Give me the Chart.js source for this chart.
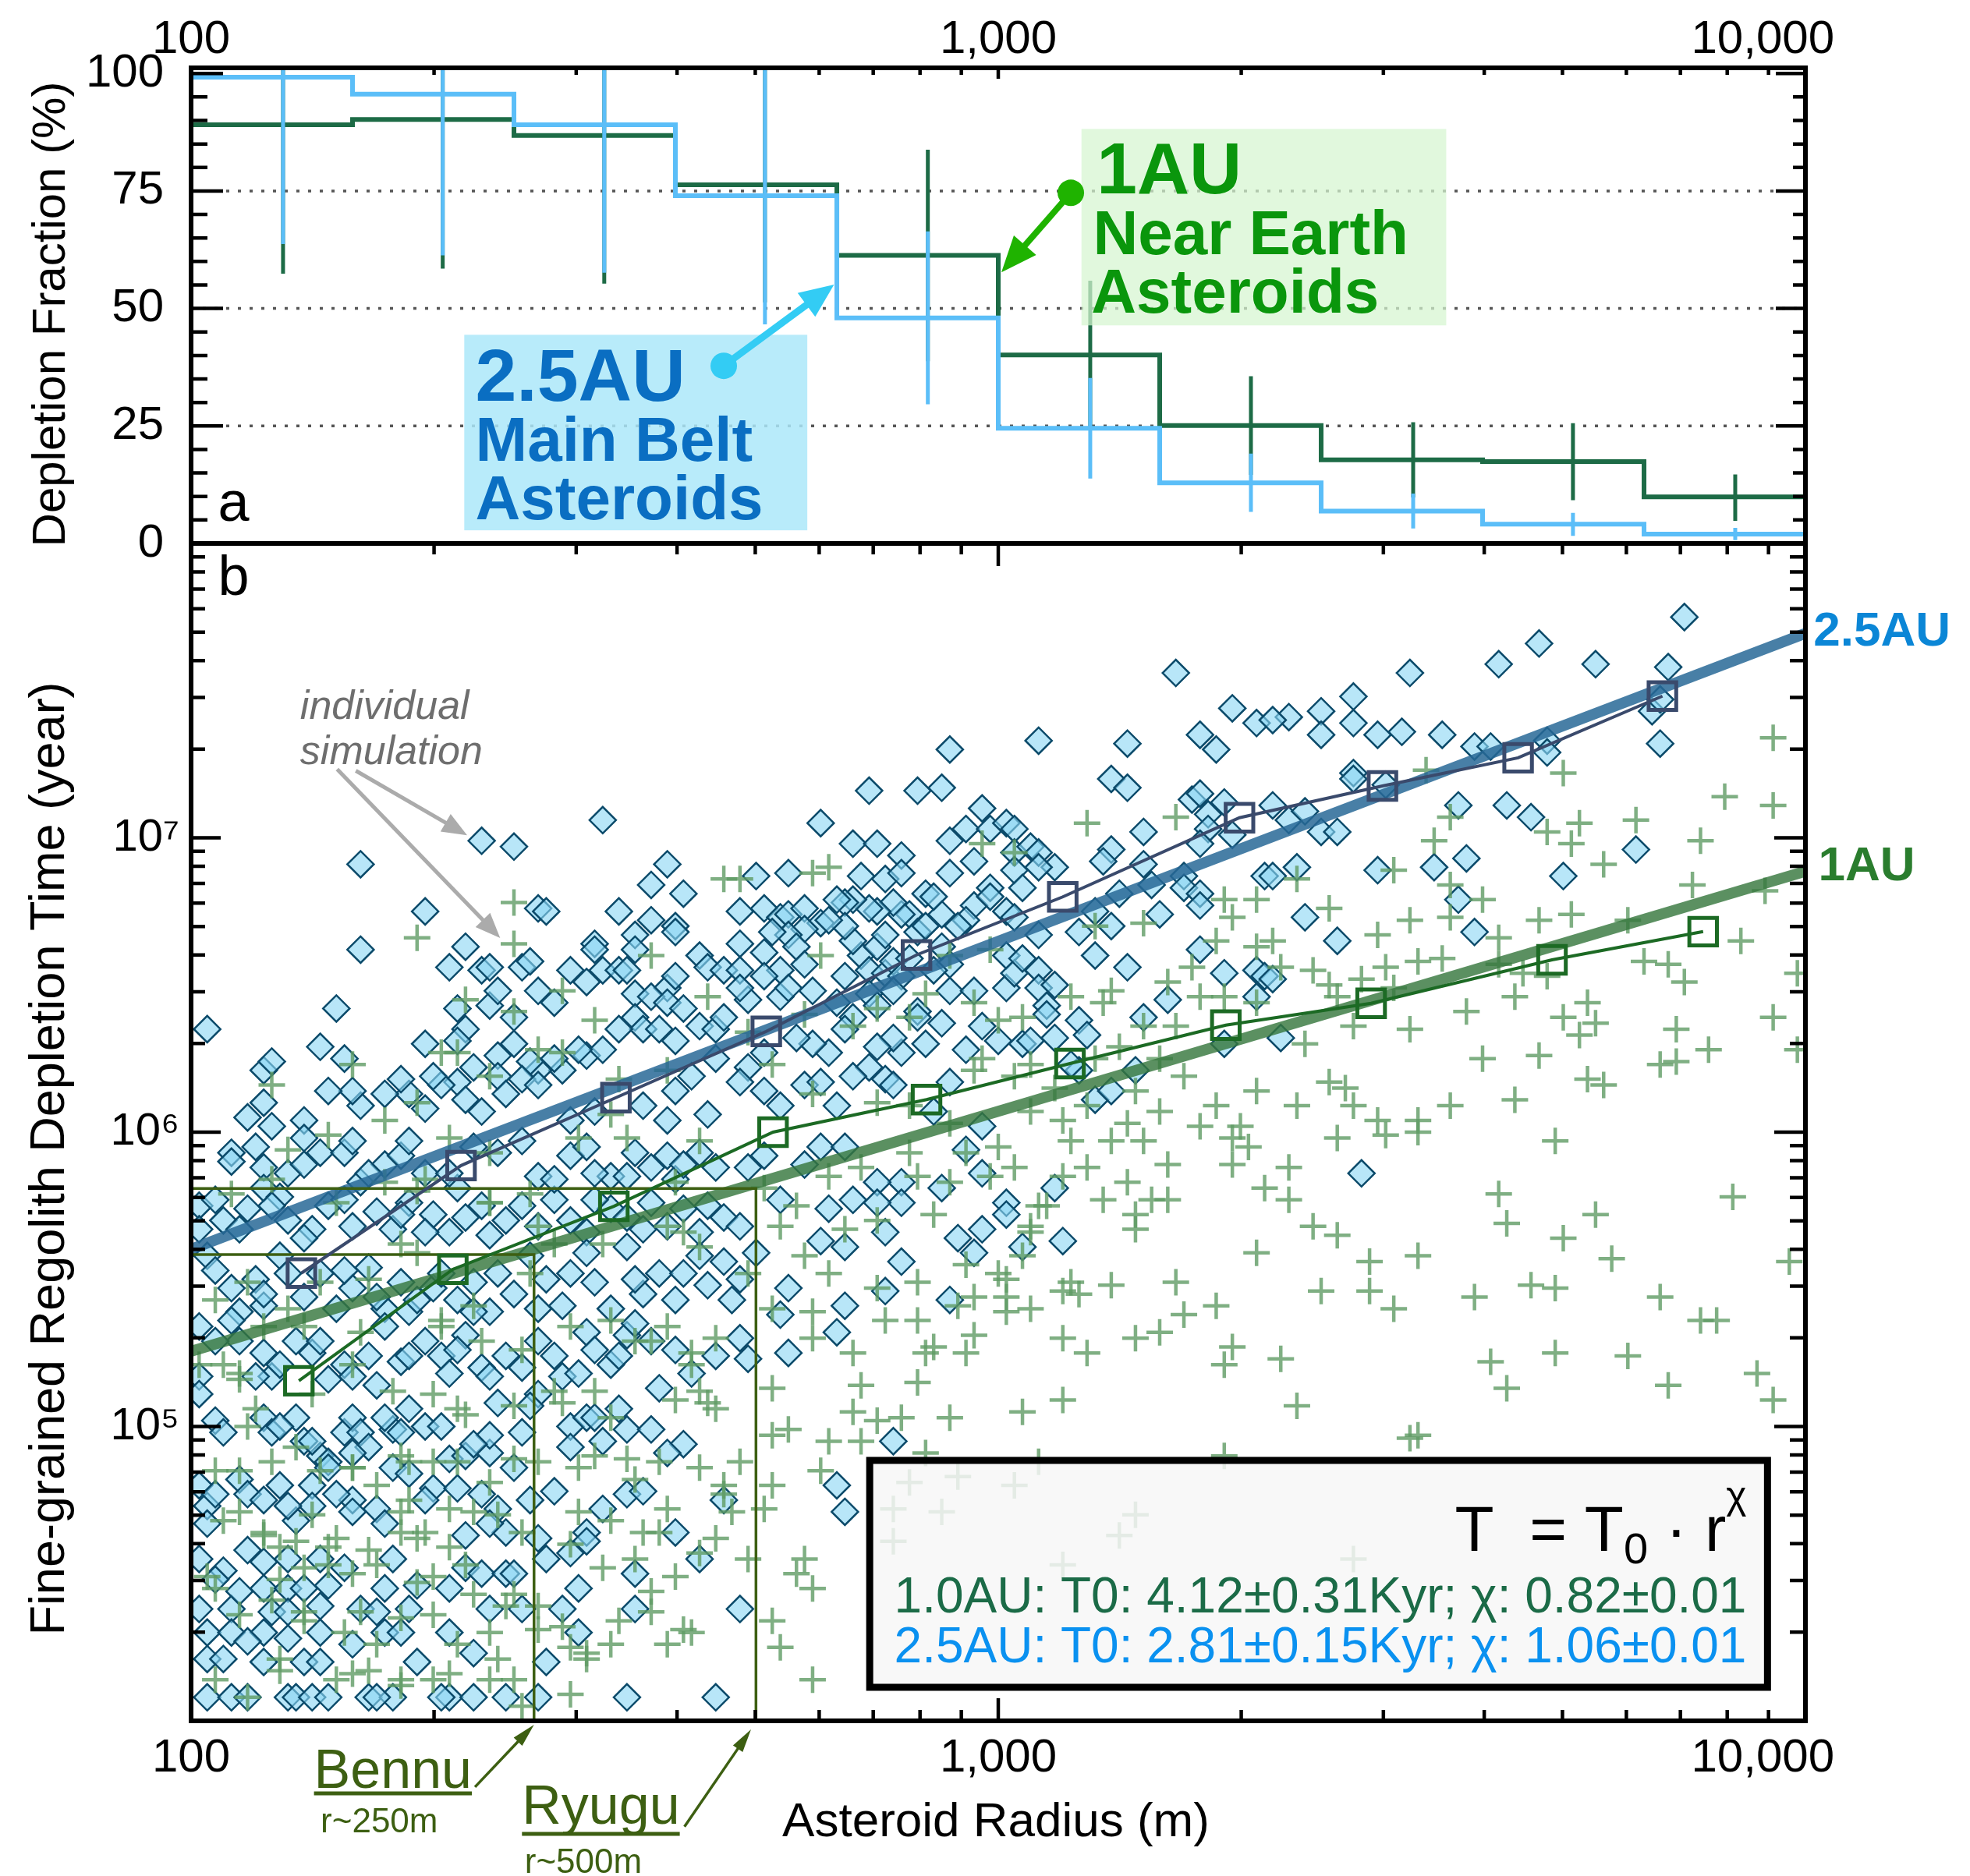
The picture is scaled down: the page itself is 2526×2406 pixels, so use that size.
<!DOCTYPE html>
<html>
<head>
<meta charset="utf-8">
<script src="https://cdn.jsdelivr.net/npm/chart.js@4.4.1/dist/chart.umd.min.js"></script>
<style>
  html, body { margin: 0; padding: 0; background: #fff; }
  #wrap { position: relative; width: 2526px; height: 2406px; }
  #wrap canvas { position: absolute; left: 0; top: 0; }
</style>
</head>
<body>
<div id="wrap">
  <canvas id="chartB" width="2526" height="2406"></canvas>
  <canvas id="chartA" width="2526" height="2406"></canvas>
</div>
<script>
// -------- PANEL A : depletion fraction per radius bin (%) --------
const binEdges = [100, 158.5, 251.2, 398.1, 631, 1000, 1585, 2512, 3981, 6310, 10000];
const mbaFraction = [99.2, 95.6, 89.1, 74.0, 48.0, 24.5, 12.9, 6.9, 4.1, 2.0];
const neaFraction = [89.1, 90.2, 86.8, 76.3, 61.3, 40.1, 25.1, 17.8, 17.4, 9.9];
const errRadius = [130, 205, 325, 514, 818, 1300, 2056, 3266, 5152, 8185];
const mbaErrLow = [63.7, 61.3, 57.6, 46.6, 29.6, 13.8, 6.7, 3.2, 1.6, 0.7];
const mbaErrHigh = [135, 130, 121, 102, 66.4, 35.2, 19.1, 10.6, 6.5, 3.3];
const neaErrLow = [57.4, 58.5, 55.3, 51.3, 38.8, 24.3, 14.6, 9.8, 9.2, 4.8];
const neaErrHigh = [121, 122, 118, 101.3, 83.8, 55.9, 35.6, 25.8, 25.6, 14.7];

// -------- PANEL B : individual simulations, [log10 radius(m), log10 time(yr)] --------
// 2.5AU (main belt) runs, diamonds
const mbaSims = [
 [2.02,6.35],[2.21,6.91],[2.21,6.62],[2.36,6.99],[2.40,6.97],[2.51,7.06],[2.29,6.75],[2.34,6.63],[2.32,6.56],[2.18,6.42],
 [2.16,6.29],[2.19,6.25],[2.09,6.21],[2.10,6.24],[2.09,6.10],[2.07,6.05],[2.29,6.30],[2.33,6.42],[2.34,6.35],[2.33,6.31],
 [2.37,6.43],[2.38,6.48],[2.36,6.55],[2.37,6.56],[2.41,6.56],[2.42,6.58],[2.43,6.48],[2.45,6.44],[2.40,6.39],[2.43,6.76],
 [2.44,6.75],[2.50,6.64],[2.50,6.62],[2.47,6.55],[2.49,6.51],[2.51,6.55],[2.53,6.75],[2.55,6.67],[2.55,6.62],[2.57,6.84],
 [2.59,6.91],[2.61,6.81],[2.57,6.72],[2.60,6.70],[2.60,6.68],[2.53,6.55],[2.54,6.55],[2.55,6.47],[2.59,6.49],[2.60,6.53],
 [2.63,6.60],[2.64,6.56],[2.66,6.55],[2.55,6.39],[2.57,6.46],[2.59,6.44],[2.61,6.42],[2.56,6.35],[2.58,6.35],[2.60,6.31],
 [2.63,6.36],[2.65,6.35],[2.66,6.39],[2.53,6.35],[2.49,6.26],[2.51,6.28],[2.48,6.28],[2.46,6.21],[2.45,6.25],[2.43,6.21],
 [2.42,6.24],[2.40,6.30],[2.38,6.26],[2.41,6.18],[2.43,6.16],[2.38,6.19],[2.39,6.13],[2.35,6.22],[2.33,6.17],[2.31,6.16],
 [2.30,6.19],[2.27,6.13],[2.26,6.18],[2.24,6.13],[2.21,6.09],[2.20,6.14],[2.17,6.14],[2.14,6.04],[2.10,6.02],[2.47,6.04],
 [2.50,6.07],[2.56,6.09],[2.60,6.14],[2.62,6.19],[2.65,6.25],[2.64,6.06],[2.59,6.04],[2.36,6.07],[2.34,6.11],[2.29,6.08],
 [3.22,7.56],[3.29,7.44],[3.32,7.39],[3.25,7.35],[3.27,7.30],[3.05,7.33],[3.16,7.32],[2.94,7.30],[2.84,7.16],[2.90,7.16],
 [2.93,7.17],[3.14,7.20],[3.16,7.17],[3.24,7.13],[3.25,7.15],[3.28,7.12],[3.26,7.08],[3.26,7.03],[3.29,7.01],[3.25,6.98],
 [2.78,7.05],[2.98,7.10],[2.82,6.98],[2.85,6.98],[2.88,6.94],[2.94,6.99],[2.96,7.03],[2.99,7.03],[3.01,7.05],[3.02,7.03],
 [2.97,6.92],[2.94,6.88],[3.02,6.95],[3.04,6.97],[3.05,6.95],[3.07,6.90],[3.05,6.90],[3.02,6.89],[3.18,7.02],[3.14,6.96],
 [3.13,6.92],[3.18,6.91],[3.19,6.84],[3.15,6.81],[3.23,6.87],[3.23,6.83],[3.25,6.81],[3.25,6.77],[3.33,6.87],[3.20,6.74],
 [3.14,6.70],[3.12,6.75],[3.10,6.68],[3.12,6.60],[3.16,6.56],[3.05,6.67],[3.03,6.83],[2.99,6.83],[2.97,6.77],[2.99,6.80],
 [3.01,6.75],[3.02,6.73],[2.96,6.72],[2.95,6.70],[2.93,6.74],[2.91,6.81],[2.92,6.80],[2.89,6.74],[2.88,6.74],[2.87,6.78],
 [2.85,6.75],[2.84,6.76],[2.82,6.79],[2.81,6.78],[2.80,6.79],[2.83,6.87],[2.86,6.86],[2.88,6.88],[2.74,6.88],[2.70,6.87],
 [2.68,6.75],[2.71,6.76],[2.73,6.73],[2.74,6.74],[2.76,6.76],[2.78,6.71],[2.76,6.69],[2.74,6.67],[2.72,6.68],[2.68,6.64],
 [2.71,6.61],[2.75,6.63],[2.76,6.57],[2.73,6.55],[2.71,6.53],[2.68,6.55],[2.69,6.45],[2.68,6.49],[2.73,6.46],[2.74,6.49],
 [2.77,6.48],[2.80,6.44],[2.82,6.39],[2.81,6.53],[2.83,6.60],[2.85,6.63],[2.86,6.67],[2.84,6.55],[2.86,6.54],[2.87,6.58],
 [2.82,6.65],[2.81,6.70],[2.79,6.72],[2.90,6.68],[2.91,6.70],[2.93,6.63],[2.94,6.57],[2.92,6.55],[2.89,6.59],[2.88,6.53],
 [2.87,6.48],[2.84,6.47],[2.85,6.43],[2.90,6.41],[2.90,6.39],[2.93,6.37],[2.94,6.48],[2.97,6.48],[3.01,6.49],[3.01,6.60],
 [3.02,6.54],[3.03,6.59],[3.05,6.55],[3.05,6.49],[3.07,6.50],[3.06,6.43],[3.06,6.40],[3.10,6.38],[3.11,6.33],[3.07,6.32],
 [3.03,6.30],[3.00,6.31],[2.98,6.36],[2.96,6.28],[2.91,6.30],[2.88,6.27],[2.87,6.32],[2.85,6.29],[2.84,6.22],[2.86,6.18],
 [2.81,6.35],[2.79,6.27],[2.77,6.30],[2.75,6.32],[2.71,6.27],[2.69,6.22],[2.68,6.17],[2.71,6.14],[2.73,6.09],[2.76,6.16],
 [2.78,6.17],[2.80,6.09],[2.82,6.19],[2.87,6.16],[2.94,6.17],[2.92,6.07],[3.12,6.11],[3.14,6.14],[3.17,6.21],[3.10,6.21],
 [3.28,6.30],[3.32,6.46],[3.28,6.54],[3.25,6.62],[3.21,6.45],[3.18,6.39],[3.32,6.55],[3.33,6.53],[3.04,6.31],[3.09,6.23],
 [2.98,6.02],
 [3.85,7.75],[3.67,7.66],[3.62,7.59],[3.74,7.59],[3.51,7.56],[3.83,7.58],[3.44,7.48],[3.36,7.41],[3.40,7.43],[3.34,7.40],
 [3.44,7.39],[3.40,7.35],[3.47,7.35],[3.50,7.36],[3.55,7.35],[3.59,7.31],[3.61,7.31],[3.68,7.33],[3.68,7.29],[3.81,7.43],
 [3.82,7.47],[3.82,7.32],[3.44,7.22],[3.44,7.20],[3.48,7.18],[3.34,7.11],[3.36,7.06],[3.38,7.09],[3.40,7.02],[3.42,7.02],
 [3.57,7.11],[3.63,7.11],[3.66,7.07],[3.79,6.96],[3.70,6.87],[3.58,6.93],[3.54,6.90],[3.47,6.89],[3.37,6.90],[3.34,6.87],
 [3.57,6.79],[3.38,6.73],[3.42,6.65],[3.59,6.68],[3.34,6.52],[3.35,6.32],
 [2.05,5.93],[2.05,5.90],[2.09,5.88],[2.12,5.86],[2.14,5.89],[2.16,5.93],[2.19,5.93],[2.24,5.89],[2.26,5.92],[2.27,5.97],
 [2.38,5.93],[2.41,5.97],[2.47,5.92],[2.49,5.95],[2.55,5.93],[2.57,5.88],[2.59,5.92],[2.63,5.93],[2.65,5.88],[2.01,5.75],
 [2.04,5.70],[2.01,5.67],[2.07,5.74],[2.09,5.81],[2.11,5.78],[2.12,5.70],[2.15,5.67],[2.17,5.75],[2.19,5.77],[2.21,5.83],
 [2.23,5.73],[2.25,5.67],[2.27,5.76],[2.30,5.72],[2.32,5.66],[2.36,5.75],[2.39,5.70],[2.41,5.75],[2.43,5.68],[2.45,5.77],
 [2.47,5.70],[2.49,5.66],[2.52,5.74],[2.54,5.71],[2.57,5.76],[2.59,5.68],[2.61,5.74],[2.63,5.66],[2.66,5.71],[2.60,5.84],
 [2.52,5.85],[2.43,5.85],[2.33,5.81],[2.29,5.86],[2.02,5.58],[2.05,5.47],[2.06,5.39],[2.08,5.50],[2.09,5.41],[2.11,5.58],
 [2.14,5.44],[2.16,5.52],[2.18,5.40],[2.20,5.47],[2.22,5.54],[2.24,5.40],[2.26,5.49],[2.27,5.39],[2.30,5.47],[2.33,5.43],
 [2.35,5.49],[2.37,5.39],[2.38,5.52],[2.40,5.45],[2.43,5.40],[2.44,5.50],[2.46,5.41],[2.49,5.59],[2.50,5.49],[2.52,5.40],
 [2.54,5.61],[2.56,5.45],[2.58,5.52],[2.60,5.43],[2.63,5.58],[2.64,5.48],[2.66,5.56],[2.01,5.34],[2.01,5.17],[2.01,5.11],
 [2.05,5.36],[2.06,5.29],[2.09,5.25],[2.10,5.17],[2.13,5.29],[2.15,5.25],[2.17,5.16],[2.19,5.21],[2.20,5.17],[2.22,5.24],
 [2.24,5.34],[2.26,5.22],[2.29,5.29],[2.31,5.24],[2.32,5.18],[2.34,5.31],[2.36,5.20],[2.39,5.24],[2.41,5.20],[2.43,5.11],
 [2.45,5.24],[2.46,5.17],[2.49,5.32],[2.50,5.26],[2.52,5.21],[2.54,5.31],[2.55,5.35],[2.57,5.29],[2.58,5.13],[2.60,5.26],
 [2.65,5.24],[2.03,5.02],[2.09,5.03],[2.10,4.98],[2.13,5.03],[2.14,4.95],[2.16,4.90],[2.17,4.88],[2.19,4.98],[2.20,5.03],
 [2.21,4.98],[2.22,4.93],[2.25,4.99],[2.26,4.98],[2.27,5.06],[2.29,5.00],[2.32,4.89],[2.34,4.90],[2.37,4.91],[2.37,4.97],
 [2.38,5.08],[2.40,4.86],[2.42,5.07],[2.47,5.00],[2.49,5.03],[2.51,4.95],[2.53,5.06],[2.54,4.99],[2.57,4.99],[2.61,4.94],
 [2.47,4.93],[2.01,4.80],[2.02,4.73],[2.02,4.67],[2.06,4.82],[2.07,4.77],[2.09,4.75],[2.11,4.80],[2.13,4.68],[2.15,4.80],
 [2.15,4.73],[2.17,4.86],[2.20,4.75],[2.20,4.71],[2.23,4.72],[2.25,4.86],[2.27,4.84],[2.30,4.79],[2.33,4.79],[2.34,4.63],
 [2.36,4.77],[2.38,4.72],[2.39,4.64],[2.42,4.75],[2.45,4.78],[2.49,4.64],[2.49,4.61],[2.54,4.77],[2.56,4.78],[2.60,4.64],
 [2.66,4.75],[2.01,4.55],[2.04,4.51],[2.07,4.58],[2.09,4.54],[2.12,4.55],[2.16,4.55],[2.19,4.52],[2.25,4.55],[2.34,4.52],
 [2.36,4.50],[2.39,4.50],[2.44,4.55],[2.47,4.57],[2.55,4.50],[2.63,4.55],[2.09,4.45],[2.12,4.45],[2.14,4.45],[2.24,4.45],
 [2.32,4.45],[2.01,4.38],[2.05,4.38],[2.10,4.37],[2.12,4.37],[2.16,4.39],[2.21,4.38],[2.23,4.37],[2.27,4.38],[2.37,4.38],
 [2.41,4.38],[2.46,4.38],[2.55,4.38],[2.02,4.30],[2.05,4.30],[2.09,4.30],[2.16,4.30],[2.24,4.30],[2.26,4.30],[2.32,4.30],
 [2.48,4.30],[2.02,4.21],[2.04,4.21],[2.09,4.20],[2.14,4.20],[2.16,4.20],[2.28,4.20],[2.44,4.20],[2.02,4.08],[2.05,4.08],
 [2.07,4.08],[2.12,4.08],[2.13,4.08],[2.15,4.08],[2.17,4.08],[2.22,4.08],[2.25,4.08],[2.32,4.08],[2.35,4.08],[2.39,4.08],
 [2.43,4.08],[2.54,4.08],[2.65,4.08],
 [2.08,5.95],[2.14,5.98],[2.20,5.97],[2.22,5.86],[2.32,5.86],[2.35,5.95],[2.45,5.84],[2.50,5.86],[2.54,5.85],[2.61,5.89],
 [2.03,5.77],[2.06,5.67],[2.10,5.75],[2.14,5.64],[2.20,5.68],[2.26,5.72],[2.29,5.66],[2.34,5.71],[2.37,5.65],[2.50,5.77],
 [2.56,5.67],[2.64,5.75],[2.03,5.53],[2.09,5.45],[2.12,5.52],[2.19,5.53],[2.23,5.44],[2.28,5.43],[2.31,5.52],[2.35,5.39],
 [2.42,5.58],[2.47,5.52],[2.55,5.50],[2.61,5.52],[2.03,5.29],[2.08,5.17],[2.11,5.21],[2.16,5.29],[2.23,5.14],[2.27,5.24],
 [2.33,5.26],[2.37,5.17],[2.43,5.29],[2.48,5.18],[2.53,5.24],[2.62,5.18],[2.04,4.98],[2.11,5.00],[2.15,4.95],[2.20,4.91],
 [2.24,5.03],[2.31,5.00],[2.35,4.94],[2.41,4.98],[2.50,5.03],[2.59,4.91],[2.03,4.77],[2.12,4.73],[2.18,4.77],[2.24,4.67],
 [2.29,4.75],[2.37,4.67],[2.43,4.62],[2.51,4.72],[2.03,4.48],[2.06,4.44],[2.17,4.46],[2.28,4.46],[2.40,4.50],[2.48,4.45],
 [2.07,4.27],[2.12,4.28],[2.20,4.26],[2.35,4.23],[2.23,4.08],[2.31,4.08],
 [2.96,5.94],[2.98,5.86],[2.93,5.81],[2.98,5.67],[3.01,5.76],[3.01,5.72],[3.07,5.81],[3.08,5.63],[3.03,5.61],[2.95,5.64],
 [2.97,5.59],[2.94,5.43],[2.88,5.56],[2.86,5.46],[2.86,5.66],[2.88,5.83],[2.85,5.83],[2.88,5.76],[2.85,5.76],[2.82,5.77],
 [2.79,5.74],[2.78,5.63],[2.81,5.61],[2.76,5.89],[2.78,5.95],[2.81,5.95],[2.73,5.77],[2.68,5.68],[2.70,5.59],[2.74,5.47],
 [2.73,5.38],[2.81,5.41],[2.80,5.32],[2.74,5.25],[2.69,5.23],[2.68,5.30],[2.67,5.43],[2.68,5.50],[2.69,5.88],[2.71,5.92],
 [2.87,4.95],[2.80,4.80],[2.81,4.71],[2.68,4.38],[3.45,5.86]
];
// 1AU (near earth) runs, plus signs
const neaSims = [
 [2.28,6.66],[2.40,6.64],[2.40,6.78],[2.20,6.23],[2.10,6.16],[2.34,6.45],[2.40,6.41],[2.50,6.38],[2.31,6.27],[2.33,6.27],
 [2.57,6.60],[2.46,6.48],[2.66,6.86],[2.64,6.46],[2.53,6.18],[2.43,6.28],[2.46,6.27],[2.37,6.19],[2.28,6.10],[2.52,6.06],
 [2.59,6.21],[2.24,6.04],
 [3.11,7.05],[3.22,7.07],[2.77,6.88],[2.79,6.90],[2.68,6.86],[3.28,6.79],[3.32,6.79],[3.29,6.73],[3.18,6.71],[3.12,6.70],
 [3.27,6.65],[3.32,6.63],[3.24,6.56],[3.21,6.51],[3.25,6.46],[3.28,6.46],[3.32,6.44],[3.22,6.36],[3.18,6.36],[3.14,6.48],
 [3.09,6.46],[3.13,6.44],[3.15,6.29],[3.12,6.25],[3.20,6.25],[3.23,6.19],[3.27,6.09],[3.32,6.14],[3.17,6.14],[3.11,6.09],
 [3.07,6.15],[3.04,6.23],[3.03,6.39],[3.00,6.38],[2.98,6.25],[2.97,6.44],[2.94,6.60],[2.99,6.62],[2.98,6.98],[3.02,6.95],
 [2.91,6.47],[2.89,6.39],[2.85,6.42],[2.82,6.36],[2.78,6.60],[2.76,6.40],[2.72,6.23],[2.69,6.34],[2.77,6.13],[2.85,6.10],
 [2.89,6.09],[2.97,6.21],[3.02,6.19],[3.04,6.07],[3.08,6.04],[3.16,6.03],[3.20,6.07],[3.25,6.02],[3.30,6.02],[2.94,6.03],
 [3.96,7.34],[3.90,7.14],[3.96,7.11],[3.70,7.22],[3.53,7.23],[3.56,7.07],[3.54,6.99],[3.68,7.02],[3.72,7.05],[3.71,6.98],
 [3.75,6.91],[3.79,7.06],[3.87,6.99],[3.86,6.84],[3.95,6.82],[3.49,6.89],[3.37,6.86],[3.56,6.84],[3.60,6.79],[3.41,6.76],
 [3.51,6.72],[3.56,6.73],[3.67,6.72],[3.71,6.74],[3.78,6.72],[3.47,6.67],[3.62,6.66],[3.34,6.65],[3.92,6.65],[3.55,6.59],
 [3.52,6.58],[3.48,6.56],[3.39,6.55],[3.35,6.56],[3.62,6.57],[3.65,6.54],[3.68,6.53],[3.80,6.58],[3.83,6.57],[3.85,6.51],
 [3.99,6.54],[3.45,6.52],[3.49,6.49],[3.41,6.50],[3.42,6.46],[3.64,6.46],[3.73,6.44],[3.58,6.41],[3.70,6.39],[3.74,6.37],
 [3.72,6.33],[3.96,6.39],[3.84,6.35],[3.51,6.35],[3.44,6.36],[3.38,6.30],[3.88,6.28],[3.60,6.25],[3.67,6.26],[3.82,6.23],
 [3.84,6.24],[3.99,6.28],[3.41,6.17],[3.43,6.15],[3.73,6.18],[3.75,6.16],[3.64,6.11],[3.56,6.09],[3.37,6.09],[3.44,6.09],
 [3.47,6.04],[3.52,6.04],
 [2.03,5.43],[2.06,5.18],[2.07,5.00],[2.06,4.85],[2.04,4.68],[2.09,4.64],[2.11,4.48],[2.13,4.61],[2.15,4.70],[2.17,4.53],
 [2.18,4.62],[2.20,4.86],[2.23,4.80],[2.26,4.71],[2.29,4.64],[2.30,4.49],[2.32,4.59],[2.34,5.04],[2.35,4.71],[2.37,4.30],
 [2.40,4.14],[2.38,4.21],[2.26,4.14],[2.20,4.16],[2.11,4.21],[2.14,4.37],[2.21,4.37],[2.28,4.47],[2.40,4.43],[2.48,4.71],
 [2.52,4.68],[2.56,4.64],[2.48,4.86],[2.54,4.89],[2.59,4.72],[2.63,4.57],[2.57,4.44],[2.62,4.30],[2.59,4.26],[2.49,4.21],
 [2.52,4.26],[2.51,4.52],[2.66,4.80],[2.60,5.09],[2.64,5.08],[2.62,5.21],[2.57,5.29],[2.46,5.08],[2.43,4.88],[2.31,5.34],
 [2.33,4.88],[2.27,4.88],[2.35,5.41],[2.37,5.76],[2.26,5.62],[2.16,5.49],[2.09,5.34],[2.01,5.21],[2.12,5.94],[2.32,5.98],
 [2.54,5.98],[2.42,5.79],[2.61,5.66],[2.51,5.62],[2.02,4.49],[2.03,4.85],[2.23,4.53],[2.43,4.31],[2.47,4.25],[2.32,4.16],
 [2.17,5.99],[2.10,5.84],[2.24,5.83],[2.29,5.84],[2.37,5.93],[2.48,5.98],[2.63,5.97],[2.60,5.83],[2.05,5.79],[2.18,5.76],
 [2.28,5.80],[2.37,5.76],[2.43,5.68],[2.45,5.62],[2.59,5.68],[2.63,5.61],[2.28,5.59],[2.07,5.49],[2.22,5.50],[2.42,5.52],
 [2.12,5.40],[2.14,5.34],[2.21,5.32],[2.31,5.36],[2.36,5.29],[2.41,5.26],[2.47,5.34],[2.52,5.36],[2.55,5.29],[2.59,5.34],
 [2.62,5.25],[2.65,5.30],[2.04,5.21],[2.06,5.16],[2.08,5.06],[2.15,5.11],[2.20,5.21],[2.25,5.12],[2.30,5.11],[2.33,5.06],
 [2.40,5.07],[2.45,5.12],[2.50,5.12],[2.52,5.03],[2.63,5.12],[2.65,5.06],[2.10,4.88],[2.13,4.93],[2.16,4.85],[2.20,4.86],
 [2.26,4.90],[2.27,4.75],[2.30,4.88],[2.32,4.72],[2.37,4.81],[2.40,4.89],[2.50,4.90],[2.55,4.82],[2.58,4.88],[2.63,4.86],
 [2.66,4.77],[2.06,4.71],[2.09,4.63],[2.11,4.59],[2.14,4.52],[2.17,4.59],[2.20,4.50],[2.22,4.58],[2.26,4.64],[2.28,4.62],
 [2.34,4.53],[2.38,4.70],[2.41,4.64],[2.47,4.60],[2.55,4.55],[2.58,4.64],[2.60,4.49],[2.65,4.62],[2.03,4.45],[2.06,4.36],
 [2.10,4.41],[2.14,4.34],[2.19,4.30],[2.23,4.26],[2.26,4.35],[2.30,4.36],[2.33,4.26],[2.35,4.43],[2.39,4.39],[2.43,4.39],
 [2.46,4.32],[2.49,4.23],[2.53,4.34],[2.57,4.37],[2.61,4.31],[2.03,4.14],[2.07,4.08],[2.11,4.17],[2.18,4.14],[2.22,4.17],
 [2.26,4.12],[2.30,4.14],[2.37,4.14],[2.41,4.05],[2.47,4.09],
 [3.13,5.77],[3.17,5.72],[3.17,5.67],[3.21,5.77],[3.21,5.89],[3.29,5.89],[3.29,5.98],[3.32,5.59],[3.33,5.81],[3.27,5.41],
 [3.23,5.38],[3.22,5.49],[3.20,5.32],[3.17,5.30],[3.14,5.48],[3.09,5.49],[3.08,5.46],[3.10,5.45],[3.08,5.30],[3.11,5.25],
 [3.29,5.27],[3.28,5.21],[3.08,5.09],[3.03,5.05],[3.01,5.44],[3.01,5.39],[3.01,5.50],[2.97,5.44],[2.96,5.55],[3.04,5.66],
 [3.05,5.75],[3.02,5.88],[3.00,5.95],[3.09,5.97],[3.14,5.97],[3.18,5.97],[2.94,5.03],[2.90,5.15],[2.92,5.27],[2.96,5.25],
 [2.91,5.25],[2.88,5.03],[2.82,5.25],[2.83,5.14],[2.82,5.05],[2.85,5.02],[2.83,4.95],[2.79,4.95],[2.78,4.85],[2.74,4.99],
 [2.72,4.97],[2.72,5.13],[2.77,5.30],[2.77,5.39],[2.86,5.36],[2.91,4.91],[2.72,4.80],[2.71,4.72],[2.68,4.88],[2.67,4.71],
 [2.69,4.55],[2.76,4.55],[2.75,4.50],[2.77,4.45],[2.72,4.34],[2.73,4.25],[2.77,4.14],[3.28,4.90],[3.05,4.88],[2.89,4.81],
 [2.95,4.83],[3.02,4.80],[3.17,4.70],[3.15,4.63],[3.08,4.53],[2.87,4.72],[2.87,4.61],[2.93,4.71],[3.31,5.95],
 [2.71,5.81],[2.73,5.68],[2.75,5.75],[2.76,5.58],[2.79,5.85],[2.81,5.67],[2.83,5.88],[2.85,5.70],[2.89,5.93],[2.90,5.85],
 [2.92,5.72],[2.94,5.83],[2.96,5.93],[2.99,5.85],[3.00,5.52],[3.03,5.58],[3.04,5.68],[3.06,5.75],[3.08,5.85],[3.11,5.88],
 [3.16,5.83],[3.19,5.77],[2.69,5.52],[2.72,5.40],[2.79,5.52],[2.85,5.47],[2.90,5.49],[2.95,5.41],[2.90,5.36],[2.97,5.31],
 [3.04,5.40],
 [3.42,5.98],[3.48,5.99],[3.52,6.00],[3.69,5.97],[3.36,5.88],[3.36,5.77],[3.39,5.68],[3.42,5.65],[3.46,5.56],[3.52,5.58],
 [3.40,5.46],[3.46,5.46],[3.49,5.40],[3.62,5.79],[3.63,5.69],[3.74,5.72],[3.70,5.64],[3.76,5.57],[3.66,5.48],[3.69,5.47],
 [3.59,5.44],[3.82,5.44],[3.87,5.36],[3.89,5.36],[3.91,5.78],[3.98,5.56],[3.35,5.23],[3.61,5.22],[3.69,5.25],[3.78,5.24],
 [3.94,5.18],[3.96,5.09],[3.63,5.13],[3.83,5.14],[3.37,5.07],[3.51,4.96],[3.52,4.97],[3.44,4.55]
];

// binned means (radius m, time yr)
const mbaBinRadius = [137, 216, 336, 516, 792, 1202, 1990, 2992, 4406, 6650];
const mbaBinTime = [3.32e5, 7.7e5, 1.31e6, 2.2e6, 4.0e6, 6.3e6, 1.17e7, 1.50e7, 1.87e7, 3.03e7];
const neaBinRadius = [136, 211, 334, 526, 815, 1227, 1914, 2897, 4853, 7469];
const neaBinTime = [1.43e5, 3.42e5, 5.6e5, 1.0e6, 1.29e6, 1.71e6, 2.31e6, 2.74e6, 3.85e6, 4.8e6];

// power law fit end points
const fitRadius = [100, 10000];
const mbaFitTime = [4.0e5, 4.95e7];
const neaFitTime = [1.8e5, 7.7e6];

// target asteroids
const bennuRadius = 266, bennuTime = 3.84e5;
const ryuguRadius = 501, ryuguTime = 6.44e5;

// -------- helpers --------
const FONT = "'Liberation Sans', Arial, Helvetica, sans-serif";
Chart.defaults.font.family = FONT;
Chart.defaults.color = '#000';

function stepPoints(edges, vals) {
    const pts = [];
    vals.forEach((v, i) => { pts.push({ x: edges[i], y: v }, { x: edges[i + 1], y: v }); });
    return pts;
}
function errPoints(xs, lo, hi) {
    const pts = [];
    xs.forEach((x, i) => { pts.push({ x: x, y: lo[i] }, { x: x, y: hi[i] }, { x: x, y: null }); });
    return pts;
}
const fromLog = arr => arr.map(p => ({ x: Math.pow(10, p[0]), y: Math.pow(10, p[1]) }));
const zip = (xs, ys) => xs.map((x, i) => ({ x: x, y: ys[i] }));

const xTickVals = [];
[100, 1000].forEach(d => { for (let k = 1; k < 10; k++) xTickVals.push(d * k); });
xTickVals.push(10000);
const yLogTickVals = [];
[1e4, 1e5, 1e6, 1e7].forEach(d => { for (let k = 1; k < 10; k++) yLogTickVals.push(d * k); });
yLogTickVals.push(1e8);
const yLinTickVals = [];
for (let v = 0; v <= 100; v += 5) yLinTickVals.push(v);
const isPow10 = v => { const l = Math.log10(v); return Math.abs(l - Math.round(l)) < 1e-6; };

function label(ctx, str, x, y, font, color, align) {
    ctx.font = font;
    ctx.fillStyle = color;
    ctx.textAlign = align || 'left';
    ctx.textBaseline = 'alphabetic';
    ctx.fillText(str, x, y);
}
function arrow(ctx, x1, y1, x2, y2, color, w, hl, hw) {
    const a = Math.atan2(y2 - y1, x2 - x1);
    const bx = x2 - hl * Math.cos(a), by = y2 - hl * Math.sin(a);
    ctx.strokeStyle = color; ctx.fillStyle = color; ctx.lineWidth = w; ctx.lineCap = 'butt';
    ctx.setLineDash([]);
    ctx.beginPath(); ctx.moveTo(x1, y1); ctx.lineTo(bx + 2 * Math.cos(a), by + 2 * Math.sin(a)); ctx.stroke();
    ctx.beginPath();
    ctx.moveTo(x2, y2);
    ctx.lineTo(bx + hw / 2 * Math.sin(a), by - hw / 2 * Math.cos(a));
    ctx.lineTo(bx - hw / 2 * Math.sin(a), by + hw / 2 * Math.cos(a));
    ctx.closePath(); ctx.fill();
}
function drawFrame(chart, o) {
    const { ctx, chartArea: a } = chart;
    const xs = chart.scales.x, ys = chart.scales.y;
    ctx.save();
    ctx.setLineDash([]);
    ctx.strokeStyle = '#000';
    ctx.lineWidth = 4.5;
    ctx.beginPath();
    xTickVals.forEach(v => {
        const p = xs.getPixelForValue(v);
        const major = isPow10(v);
        if (o.xTop) { ctx.moveTo(p, a.top); ctx.lineTo(p, a.top + (major ? o.xTop[0] : o.xTop[1])); }
        if (o.xBottom) { ctx.moveTo(p, a.bottom); ctx.lineTo(p, a.bottom - (major ? o.xBottom[0] : o.xBottom[1])); }
    });
    o.yVals.forEach(v => {
        const p = ys.getPixelForValue(v);
        const major = o.yMajor(v);
        ctx.moveTo(a.left, p); ctx.lineTo(a.left + (major ? o.yLeft[0] : o.yLeft[1]), p);
        ctx.moveTo(a.right, p); ctx.lineTo(a.right - (major ? o.yRight[0] : o.yRight[1]), p);
    });
    ctx.stroke();
    ctx.lineWidth = 6;
    ctx.strokeRect(a.left, a.top, a.right - a.left, a.bottom - a.top);
    ctx.restore();
}
function xLabels(chart, baseline) {
    const { ctx, chartArea: a } = chart;
    const xs = chart.scales.x;
    label(ctx, '100', xs.getPixelForValue(100), baseline, '60px ' + FONT, '#000', 'center');
    label(ctx, '1,000', xs.getPixelForValue(1000), baseline, '60px ' + FONT, '#000', 'center');
    label(ctx, '10,000', a.right + 37, baseline, '60px ' + FONT, '#000', 'right');
}
function yTitle(ctx, str, x, y, font) {
    ctx.save();
    ctx.translate(x, y);
    ctx.rotate(-Math.PI / 2);
    ctx.font = font; ctx.fillStyle = '#000'; ctx.textAlign = 'center'; ctx.textBaseline = 'middle';
    ctx.fillText(str, 0, 0);
    ctx.restore();
}

const baseOptions = {
    responsive: false,
    animation: false,
    devicePixelRatio: 1,
    events: [],
    plugins: { legend: { display: false }, tooltip: { enabled: false } }
};

// -------- PANEL A --------
const topDecor = {
    id: 'topDecor',
    beforeDatasetsDraw(chart) {
        const { ctx, chartArea: a } = chart;
        const ys = chart.scales.y;
        ctx.save();
        ctx.setLineDash([4, 11]);
        ctx.lineWidth = 3.5;
        ctx.strokeStyle = '#555';
        ctx.beginPath();
        [25, 50, 75].forEach(v => { const y = ys.getPixelForValue(v); ctx.moveTo(a.left, y); ctx.lineTo(a.right, y); });
        ctx.stroke();
        ctx.restore();
    },
    afterDatasetsDraw(chart) {
        const { ctx } = chart;
        const X = v => chart.scales.x.getPixelForValue(v);
        const Y = v => chart.scales.y.getPixelForValue(v);
        ctx.save();
        // main belt box
        ctx.fillStyle = 'rgba(172,232,249,0.85)';
        ctx.fillRect(X(218), Y(44.4), X(580) - X(218), Y(2.8) - Y(44.4));
        label(ctx, '2.5AU', X(225), Y(30.3), 'bold 95px ' + FONT, '#0a6ec2');
        label(ctx, 'Main Belt', X(225), Y(17.6), 'bold 80px ' + FONT, '#0a6ec2');
        label(ctx, 'Asteroids', X(225), Y(5.1), 'bold 80px ' + FONT, '#0a6ec2');
        arrow(ctx, X(457), Y(37.8), X(626), Y(55.1), '#33ccf4', 9, 44, 38);
        ctx.beginPath(); ctx.arc(X(457), Y(37.8), 17, 0, Math.PI * 2); ctx.fill();
        // near earth box
        ctx.fillStyle = 'rgba(214,245,208,0.72)';
        ctx.fillRect(X(1268), Y(88.2), X(3589) - X(1268), Y(46.4) - Y(88.2));
        label(ctx, '1AU', X(1324), Y(74.5), 'bold 93px ' + FONT, '#0a960c');
        label(ctx, 'Near Earth', X(1310), Y(61.5), 'bold 80px ' + FONT, '#0a960c');
        label(ctx, 'Asteroids', X(1304), Y(49.1), 'bold 80px ' + FONT, '#0a960c');
        arrow(ctx, X(1230), Y(74.6), X(1009), Y(57.7), '#1fb300', 8, 46, 38);
        ctx.beginPath(); ctx.arc(X(1230), Y(74.6), 17, 0, Math.PI * 2); ctx.fill();
        // panel letter
        label(ctx, 'a', X(108), Y(4.8), '72px ' + FONT, '#000');
        ctx.restore();
        drawFrame(chart, {
            xTop: [14, 9], yVals: yLinTickVals, yMajor: v => v % 25 === 0,
            yLeft: [41, 21], yRight: [38, 16]
        });
    },
    afterDraw(chart) {
        const { ctx, chartArea: a } = chart;
        ctx.save();
        xLabels(chart, a.top - 19);
        yTitle(ctx, 'Depletion Fraction (%)', a.left - 179, (a.top + a.bottom) / 2 + 11, '60px ' + FONT);
        ctx.restore();
    }
};

new Chart(document.getElementById('chartA'), {
    type: 'scatter',
    data: {
        datasets: [
            { data: stepPoints(binEdges, neaFraction), showLine: true, borderColor: '#1d6b46', borderWidth: 6,
              borderJoinStyle: 'miter', pointRadius: 0, order: 4, clip: 0 },
            { data: errPoints(errRadius, neaErrLow, neaErrHigh), showLine: true, borderColor: '#1d6b46', borderWidth: 5,
              pointRadius: 0, order: 3, clip: 0 },
            { data: stepPoints(binEdges, mbaFraction), showLine: true, borderColor: '#5bbef8', borderWidth: 6,
              borderJoinStyle: 'miter', pointRadius: 0, order: 2, clip: 0 },
            { data: errPoints(errRadius, mbaErrLow, mbaErrHigh), showLine: true, borderColor: '#5bbef8', borderWidth: 5,
              pointRadius: 0, order: 1, clip: 0 }
        ]
    },
    options: Object.assign({}, baseOptions, {
        layout: { padding: { left: 0, top: 87, right: 211, bottom: 1709 } },
        scales: {
            x: { type: 'logarithmic', min: 100, max: 10000, display: false },
            y: {
                type: 'linear', min: 0, max: 101.2,
                afterFit: s => { s.width = 245; },
                afterBuildTicks: s => { s.ticks = [0, 25, 50, 75, 100].map(v => ({ value: v })); },
                grid: { display: false, drawTicks: false },
                border: { display: false },
                ticks: { padding: 35, font: { size: 60 }, color: '#000', autoSkip: false }
            }
        }
    }),
    plugins: [topDecor]
});

// -------- PANEL B --------
const SUP = { 5: '\u2075', 6: '\u2076', 7: '\u2077' };

const bottomDecor = {
    id: 'bottomDecor',
    afterDatasetsDraw(chart) {
        drawFrame(chart, {
            xTop: [29, 14], xBottom: [29, 14], yVals: yLogTickVals, yMajor: isPow10,
            yLeft: [38, 18], yRight: [40, 20]
        });
    },
    afterDraw(chart) {
        const { ctx, chartArea: a } = chart;
        const X = v => chart.scales.x.getPixelForValue(v);
        const Y = v => chart.scales.y.getPixelForValue(v);
        ctx.save();
        label(ctx, 'b', X(108), Y(6.68e7), '72px ' + FONT, '#000');

        // individual simulation note
        label(ctx, 'individual', X(136.5), Y(2.535e7), 'italic 52px ' + FONT, '#6e6e6e');
        label(ctx, 'simulation', X(136.5), Y(1.778e7), 'italic 52px ' + FONT, '#6e6e6e');
        arrow(ctx, X(160), Y(1.69e7), X(219.8), Y(1.02e7), '#ababab', 5, 32, 26);
        arrow(ctx, X(151.7), Y(1.71e7), X(241.5), Y(4.57e6), '#ababab', 5, 32, 26);

        // fit labels on the right
        label(ctx, '2.5AU', X(10233), Y(4.5e7), 'bold 62px ' + FONT, '#0b86d6');
        label(ctx, '1AU', X(10375), Y(7.18e6), 'bold 62px ' + FONT, '#2a7d2e');

        // fit legend box
        const bx0 = X(693), bx1 = X(8974), by0 = Y(7.67e4), by1 = Y(1.30e4);
        ctx.fillStyle = 'rgba(247,247,247,0.85)';
        ctx.fillRect(bx0, by0, bx1 - bx0, by1 - by0);
        ctx.lineWidth = 9; ctx.strokeStyle = '#000'; ctx.setLineDash([]);
        ctx.strokeRect(bx0, by0, bx1 - bx0, by1 - by0);
        const xr = X(8453);
        label(ctx, '1.0AU: T0: 4.12\u00b10.31Kyr; \u03c7: 0.82\u00b10.01', xr, Y(2.33e4), '64px ' + FONT, '#1b6b47', 'right');
        label(ctx, '2.5AU: T0: 2.81\u00b10.15Kyr; \u03c7: 1.06\u00b10.01', xr, Y(1.58e4), '64px ' + FONT, '#0a91f0', 'right');
        const fb = Y(3.78e4);
        const parts = [['T  = T', 82, 0], ['0', 56, 16], [' \u00b7 r', 82, 0], ['\u03c7', 50, -54]];
        let total = 0;
        parts.forEach(p => { ctx.font = p[1] + 'px ' + FONT; total += ctx.measureText(p[0]).width; });
        let cx = xr - total;
        parts.forEach(p => {
            label(ctx, p[0], cx, fb + p[2], p[1] + 'px ' + FONT, '#000', 'left');
            cx += ctx.measureText(p[0]).width;
        });

        // axis labels
        xLabels(chart, a.bottom + 65);
        label(ctx, 'Asteroid Radius (m)', (a.left + a.right) / 2 - 3, a.bottom + 148, '62px ' + FONT, '#000', 'center');
        yTitle(ctx, 'Fine-grained Regolith Depletion Time (year)', a.left - 180, (a.top + a.bottom) / 2 + 34, '63px ' + FONT);

        // Bennu / Ryugu call-outs
        const olive = '#3d5f12';
        label(ctx, 'Bennu', X(142), Y(5.92e3), '70px ' + FONT, olive);
        let w = ctx.measureText('Bennu').width;
        ctx.fillRect(X(142), Y(5.67e3) - 2.5, w, 5);
        label(ctx, 'r~250m', X(144.7), Y(4.18e3), '44px ' + FONT, olive);
        arrow(ctx, X(142) + w + 4, Y(5.96e3), X(bennuRadius), Y(9.7e3), olive, 3.5, 30, 15);
        label(ctx, 'Ryugu', X(257), Y(4.47e3), '70px ' + FONT, olive);
        w = ctx.measureText('Ryugu').width;
        ctx.fillRect(X(257), Y(4.13e3) - 2.5, w, 5);
        label(ctx, 'r~500m', X(259), Y(3.05e3), '44px ' + FONT, olive);
        arrow(ctx, X(257) + w + 6, Y(4.37e3), X(ryuguRadius - 7), Y(9.35e3), olive, 3.5, 30, 15);
        ctx.restore();
    }
};

new Chart(document.getElementById('chartB'), {
    type: 'scatter',
    data: {
        datasets: [
            { data: fromLog(mbaSims), pointStyle: 'rectRot', pointRadius: 17, pointHoverRadius: 17,
              backgroundColor: 'rgba(140,214,244,0.62)', borderColor: '#0b4a6a',
              pointBackgroundColor: 'rgba(140,214,244,0.62)', pointBorderColor: '#0b4a6a', pointBorderWidth: 2.5,
              order: 9, clip: 0 },
            { data: fromLog(neaSims), pointStyle: 'cross', pointRadius: 17, pointHoverRadius: 17,
              borderColor: 'rgba(95,155,100,0.8)', pointBorderColor: 'rgba(95,155,100,0.8)', pointBorderWidth: 4.5,
              order: 8, clip: 0 },
            { data: zip(fitRadius, mbaFitTime), showLine: true, borderColor: 'rgba(40,105,150,0.85)', borderWidth: 14,
              pointRadius: 0, order: 7, clip: 0 },
            { data: zip(fitRadius, neaFitTime), showLine: true, borderColor: 'rgba(55,120,62,0.82)', borderWidth: 14,
              pointRadius: 0, order: 6, clip: 0 },
            { data: [{ x: 100, y: bennuTime }, { x: bennuRadius, y: bennuTime }, { x: bennuRadius, y: 1e4 }],
              showLine: true, borderColor: '#3d5f12', borderWidth: 3.5, pointRadius: 0, order: 5, clip: 0 },
            { data: [{ x: 100, y: ryuguTime }, { x: ryuguRadius, y: ryuguTime }, { x: ryuguRadius, y: 1e4 }],
              showLine: true, borderColor: '#3d5f12', borderWidth: 3.5, pointRadius: 0, order: 5, clip: 0 },
            { data: zip(neaBinRadius, neaBinTime), showLine: true, borderColor: '#1c6a24', borderWidth: 4,
              pointStyle: 'rect', pointRadius: 25, pointHoverRadius: 25, pointBorderWidth: 5,
              pointBackgroundColor: 'rgba(0,0,0,0)', pointBorderColor: '#1c6a24', order: 3, clip: 0 },
            { data: zip(mbaBinRadius, mbaBinTime), showLine: true, borderColor: '#3a4a6c', borderWidth: 4,
              pointStyle: 'rect', pointRadius: 25, pointHoverRadius: 25, pointBorderWidth: 5,
              pointBackgroundColor: 'rgba(0,0,0,0)', pointBorderColor: '#3a4a6c', order: 2, clip: 0 }
        ]
    },
    options: Object.assign({}, baseOptions, {
        layout: { padding: { left: 0, top: 697, right: 211, bottom: 199 } },
        scales: {
            x: { type: 'logarithmic', min: 100, max: 10000, display: false },
            y: {
                type: 'logarithmic', min: 1e4, max: 1e8,
                afterFit: s => { s.width = 245; },
                afterBuildTicks: s => { s.ticks = [1e5, 1e6, 1e7].map(v => ({ value: v })); },
                grid: { display: false, drawTicks: false },
                border: { display: false },
                ticks: {
                    padding: 15, font: { size: 58 }, color: '#000', autoSkip: false,
                    callback: v => '10' + (SUP[Math.round(Math.log10(v))] || '')
                }
            }
        }
    }),
    plugins: [bottomDecor]
});
</script>
</body>
</html>
